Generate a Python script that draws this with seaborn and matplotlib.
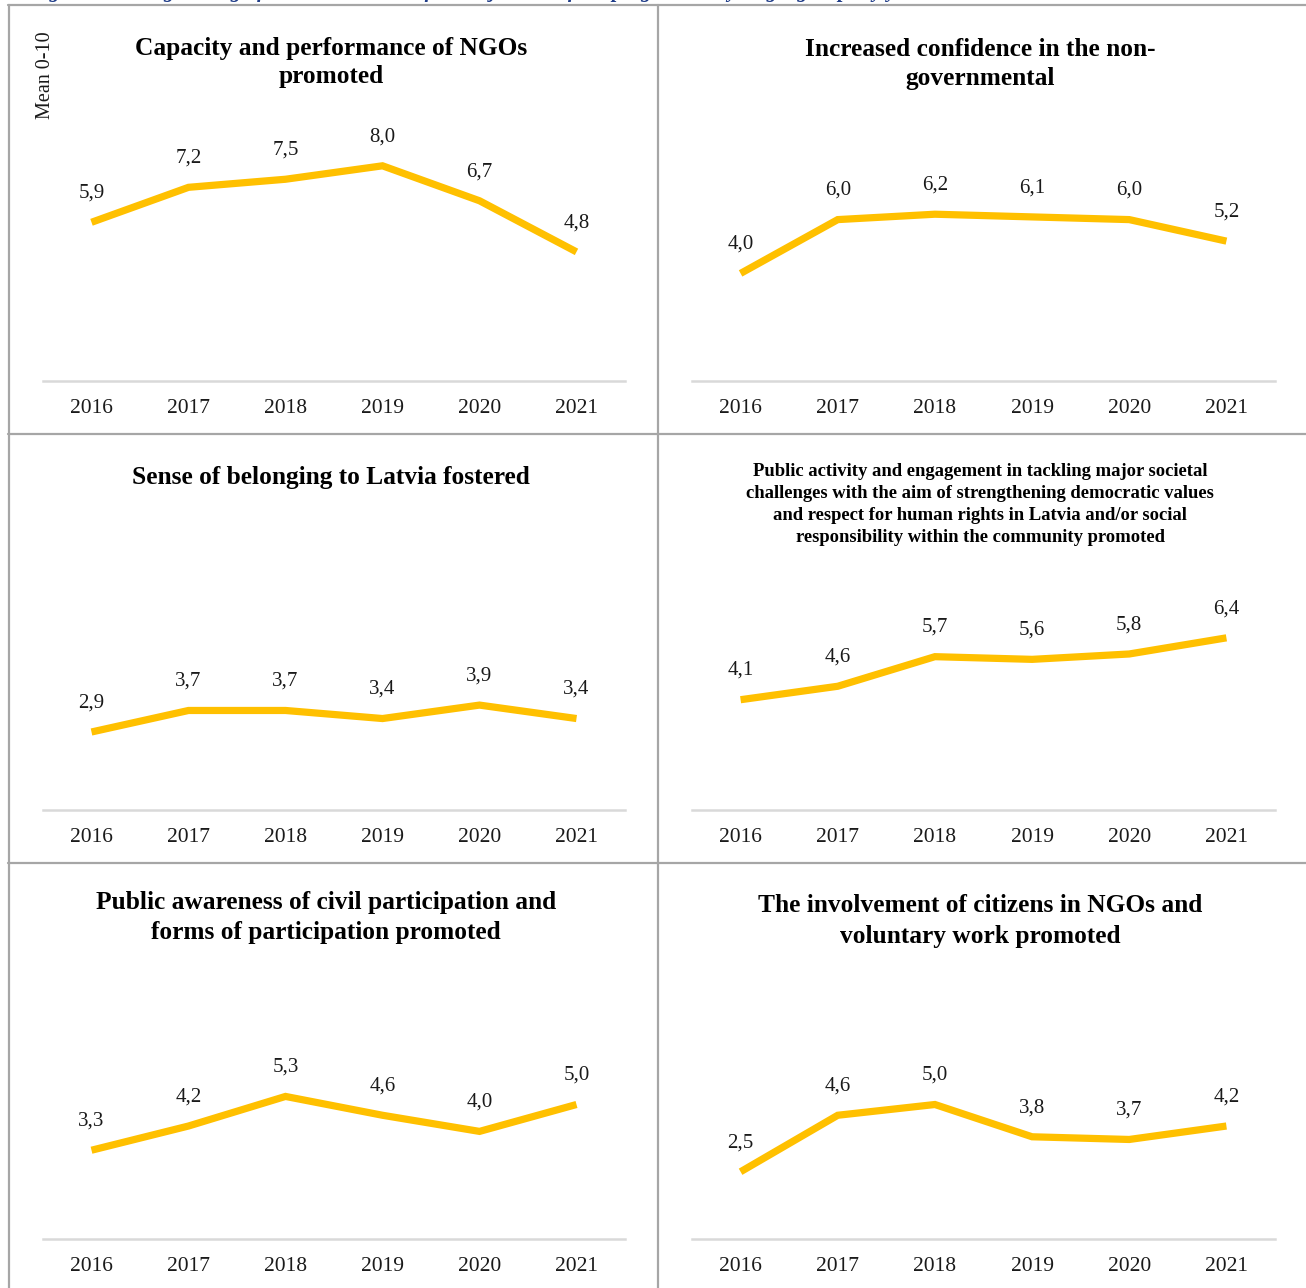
import matplotlib
matplotlib.use("Agg")
import matplotlib.pyplot as plt
from matplotlib.lines import Line2D
import pandas as pd
import seaborn as sns

# --- data ---
years = ["2016", "2017", "2018", "2019", "2020", "2021"]
capacity = [5.9, 7.2, 7.5, 8.0, 6.7, 4.8]
confidence = [4.0, 6.0, 6.2, 6.1, 6.0, 5.2]
belonging = [2.9, 3.7, 3.7, 3.4, 3.9, 3.4]
engagement = [4.1, 4.6, 5.7, 5.6, 5.8, 6.4]
awareness = [3.3, 4.2, 5.3, 4.6, 4.0, 5.0]
involvement = [2.5, 4.6, 5.0, 3.8, 3.7, 4.2]

titles = [
    "Capacity and performance of NGOs\npromoted",
    "Increased confidence in the non-\ngovernmental",
    "Sense of belonging to Latvia fostered",
    "Public activity and engagement in tackling major societal\n"
    "challenges with the aim of strengthening democratic values\n"
    "and respect for human rights in Latvia and/or social\n"
    "responsibility within the community promoted",
    "Public awareness of civil participation and\nforms of participation promoted",
    "The involvement of citizens in NGOs and\nvoluntary work promoted",
]
series = [capacity, confidence, belonging, engagement, awareness, involvement]
y_label = "Mean 0-10"
caption = "Figure 4. Average rating of the achievement of the objectives of the programme by target groups by year"

# --- style ---
sns.set_theme(style="white")
plt.rcParams["font.family"] = ["Liberation Serif", "DejaVu Serif"]

LINE_COLOR = "#FFC000"
BORDER = "#A6A6A6"
AXIS_GREY = "#D9D9D9"
W, H = 1306, 1288

fig = plt.figure(figsize=(W / 100, H / 100), dpi=100)


def fx(x):
    return x / W


def fy(y):
    return 1 - y / H


# cell layout in pixels
row_top = [5, 434, 863]
axis_x = [(43, 625), (692, 1275)]
baseline = [381, 810, 1239]
title_cx = [[331, 980], [331, 980], [326, 980]]
title_top = [[43, 44], [43, 38], [40, 43]]
title_size = [[18.3, 18.3], [18.3, 13.4], [18.3, 18.3]]
title_step = [[29, 29.5], [29.5, 21.7], [30, 30]]
px_per_unit = 26.9

for i, (title, vals) in enumerate(zip(titles, series)):
    r, c = divmod(i, 2)
    x0, x1 = axis_x[c]
    b = baseline[r]
    top = b - 10 * px_per_unit
    ax = fig.add_axes([fx(x0), fy(b), fx(x1 - x0), (b - top) / H])

    df = pd.DataFrame({"year": years, "value": vals})
    sns.lineplot(data=df, x="year", y="value", ax=ax, color=LINE_COLOR,
                 linewidth=5.2, solid_capstyle="butt", solid_joinstyle="miter")
    for line in ax.lines:
        line.set_clip_on(False)

    for j, v in enumerate(vals):
        ax.annotate(f"{v:.1f}".replace(".", ","), (j, v), xytext=(0, 21),
                    textcoords="offset points", ha="center", va="center",
                    fontsize=15, color="#1a1a1a", annotation_clip=False)

    ax.set_xlim(-0.5, 5.5)
    ax.set_ylim(0, 10)
    ax.set_xlabel("")
    ax.set_ylabel("")
    ax.set_yticks([])
    ax.tick_params(axis="x", length=0, pad=13, labelsize=15.5, labelcolor="#1a1a1a")
    for side in ["top", "right", "left"]:
        ax.spines[side].set_visible(False)
    ax.spines["bottom"].set_color(AXIS_GREY)
    ax.spines["bottom"].set_linewidth(1.8)
    ax.set_facecolor("none")

    # panel title
    lines = title.split("\n")
    for k, txt in enumerate(lines):
        yy = row_top[r] + title_top[r][c] + k * title_step[r][c]
        fig.text(fx(title_cx[r][c]), fy(yy), txt, ha="center", va="center",
                 fontsize=title_size[r][c], fontweight="bold", color="black")

# y label only on the first panel
fig.text(fx(46), fy(75), y_label, rotation=90, ha="center", va="center",
         fontsize=14.5, color="#1a1a1a")

# --- table-like borders ---
for y in row_top:
    fig.add_artist(Line2D([fx(8), fx(1306)], [fy(y), fy(y)], color=BORDER, lw=1.6))
for x in [9, 658]:
    fig.add_artist(Line2D([fx(x), fx(x)], [fy(5), 0], color=BORDER, lw=1.6))

# caption cut off at top of the crop, only the descenders show
fig.text(fx(30), fy(-2.5), caption, ha="left", va="baseline", fontsize=15,
         fontweight="bold", style="italic", color="#1F3C88")

fig.savefig("out.png", dpi=100)
